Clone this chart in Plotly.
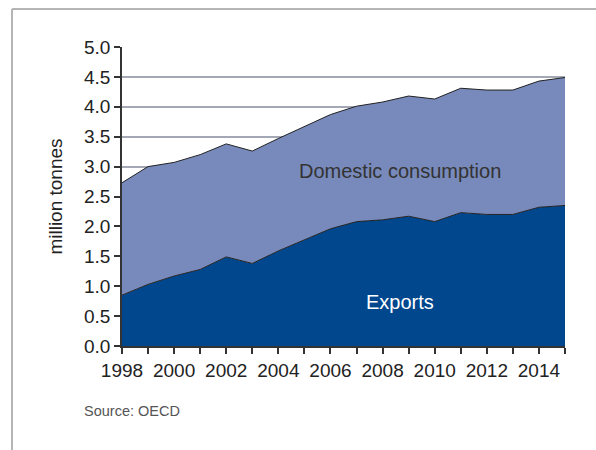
import plotly.graph_objects as go

years = list(range(1998, 2016))
exports = [0.85, 1.03, 1.17, 1.28, 1.49, 1.38, 1.59, 1.78, 1.96, 2.08,
           2.11, 2.17, 2.08, 2.23, 2.20, 2.20, 2.32, 2.35]
domestic = [1.88, 1.97, 1.90, 1.92, 1.89, 1.88, 1.88, 1.89, 1.91, 1.93,
            1.97, 2.01, 2.05, 2.08, 2.08, 2.08, 2.11, 2.14]
y_ticks = [0.0, 0.5, 1.0, 1.5, 2.0, 2.5, 3.0, 3.5, 4.0, 4.5, 5.0]

FONT = "Liberation Sans, Arial, sans-serif"

fig = go.Figure()
fig.add_trace(go.Scatter(
    x=years, y=exports, name="Exports", stackgroup="one",
    mode="lines", line=dict(color="#222222", width=1),
    fillcolor="#00478e",
))
fig.add_trace(go.Scatter(
    x=years, y=domestic, name="Domestic consumption", stackgroup="one",
    mode="lines", line=dict(color="#222222", width=1),
    fillcolor="#788abb",
))

W, H = 596, 450
L, R, T, B = 122, 31, 47, 104
pw, ph = W - L - R, H - T - B


def px_to_paper(x, y):
    return (x - L) / pw, (H - B - y) / ph


fig.update_layout(
    width=W, height=H,
    margin=dict(l=L, r=R, t=T, b=B),
    paper_bgcolor="white", plot_bgcolor="white",
    showlegend=False,
    font=dict(family=FONT, color="#222222"),
    xaxis=dict(
        range=[1998, 2015], dtick=2, tick0=1998,
        showgrid=False, zeroline=False,
        showline=True, linecolor="#333333", linewidth=1.5,
        ticks="outside", ticklen=6, tickwidth=1.5, tickcolor="#333333",
        minor=dict(dtick=1, ticks="outside", ticklen=6, tickwidth=1.5,
                   tickcolor="#333333", showgrid=False),
        tickfont=dict(size=19, family=FONT, color="#222222"),
    ),
    yaxis=dict(
        range=[0, 5], tickvals=y_ticks,
        ticktext=[f"{v:.1f}" for v in y_ticks],
        showgrid=True, gridcolor="#a3a8b4", gridwidth=2,
        zeroline=False,
        showline=True, linecolor="#333333", linewidth=1.5,
        ticks="outside", ticklen=6, tickwidth=1.5, tickcolor="#333333",
        tickfont=dict(size=19, family=FONT, color="#222222"),
        title=dict(text="million tonnes", standoff=16,
                   font=dict(size=19, family=FONT, color="#222222")),
    ),
)

# frame lines along the top and left edges of the figure
x0, y0 = px_to_paper(12, 9)
x1, _ = px_to_paper(596, 9)
_, yb = px_to_paper(12, 450)
fig.add_shape(type="line", xref="paper", yref="paper",
              x0=x0, y0=y0, x1=x1, y1=y0,
              line=dict(color="#b5b5b5", width=2))
fig.add_shape(type="line", xref="paper", yref="paper",
              x0=x0, y0=y0, x1=x0, y1=yb,
              line=dict(color="#b5b5b5", width=2))

fig.add_annotation(x=2008.65, y=2.92, text="Domestic consumption",
                   showarrow=False, xref="x", yref="y",
                   font=dict(size=20, family=FONT, color="#333333"))
fig.add_annotation(x=2008.65, y=0.74, text="Exports",
                   showarrow=False, xref="x", yref="y",
                   font=dict(size=20, family=FONT, color="white"))

sx, sy = px_to_paper(82, 421)
fig.add_annotation(x=sx, y=sy, text="Source: OECD", showarrow=False,
                   xref="paper", yref="paper", xanchor="left",
                   font=dict(size=14.5, family=FONT, color="#555555"))

fig.write_html("out.html")
